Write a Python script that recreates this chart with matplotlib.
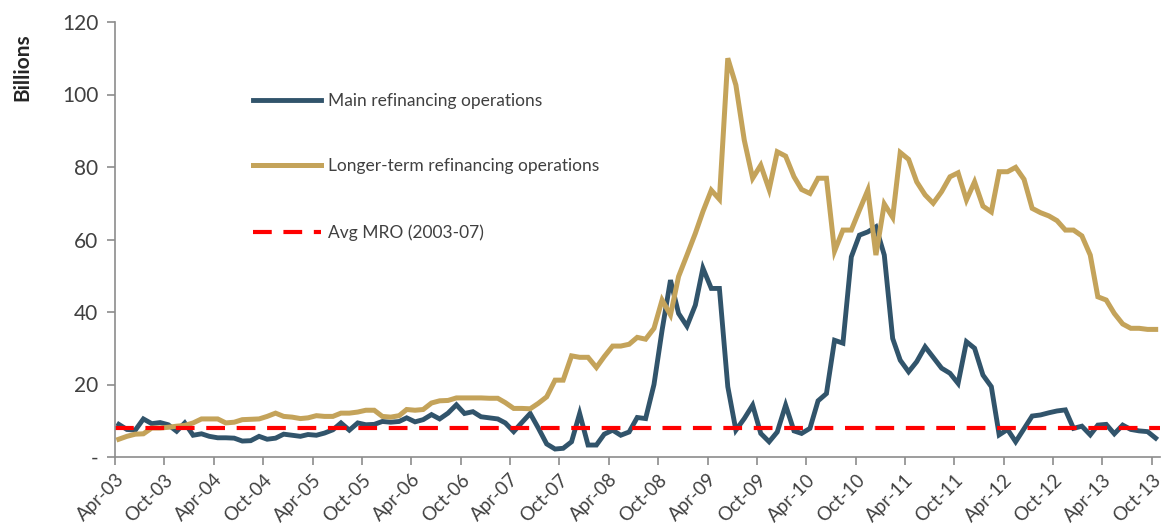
import matplotlib.pyplot as plt
import pandas as pd

plt.rcParams['font.family'] = ['Lato', 'DejaVu Sans']

# monthly averages, Apr-03 .. Oct-13 (billions)
months = pd.date_range('2003-04-01', '2013-10-01', freq='MS') + pd.Timedelta(days=14)

mro = [9.0, 7.6, 7.4, 10.5, 9.2, 9.5, 8.9, 7.1, 9.4, 6.0,
       6.4, 5.7, 5.3, 5.3, 5.2, 4.4, 4.5, 5.7, 4.9, 5.2,
       6.3, 6.0, 5.7, 6.2, 6.0, 6.6, 7.5, 9.4, 7.4, 9.4,
       8.9, 9.0, 9.8, 9.6, 9.8, 10.8, 9.7, 10.3, 11.7, 10.5,
       12.1, 14.4, 12.0, 12.5, 11.1, 10.8, 10.5, 9.4, 7.0, 9.5,
       12.0, 8.0, 3.6, 2.2, 2.4, 4.2, 12.0, 3.3, 3.3, 6.3,
       7.4, 6.0, 6.9, 10.9, 10.6, 20.0, 35.0, 48.8, 39.6, 36.1,
       41.9, 52.1, 46.5, 46.5, 19.4, 7.4, 10.6, 14.3, 6.5, 4.2,
       6.9, 14.3, 7.2, 6.5, 7.9, 15.5, 17.5, 32.2, 31.4, 55.2,
       61.2, 62.1, 63.5, 55.7, 32.7, 26.7, 23.5, 26.3, 30.4, 27.5,
       24.5, 23.1, 20.3, 31.8, 30.0, 22.6, 19.4, 6.1, 7.6, 4.2,
       7.8, 11.3, 11.6, 12.2, 12.7, 13.0, 7.9, 8.5, 6.1, 8.8,
       9.0, 6.4, 8.8, 7.6, 7.2, 7.0, 5.2]

ltro = [4.9, 5.7, 6.3, 6.4, 8.0, 8.0, 8.2, 8.5, 8.7, 9.4,
        10.5, 10.5, 10.5, 9.4, 9.6, 10.3, 10.4, 10.5, 11.2, 12.1,
        11.2, 11.0, 10.6, 10.8, 11.4, 11.2, 11.2, 12.1, 12.1, 12.4,
        12.9, 12.9, 11.2, 11.0, 11.4, 13.1, 12.9, 13.1, 14.9, 15.5,
        15.6, 16.3, 16.3, 16.3, 16.3, 16.2, 16.2, 15.0, 13.4, 13.4,
        13.3, 14.8, 16.6, 21.2, 21.2, 27.9, 27.5, 27.5, 24.7, 27.7,
        30.6, 30.6, 31.1, 33.0, 32.5, 35.5, 43.3, 39.2, 49.8, 55.7,
        61.7, 67.7, 73.6, 71.1, 110.0, 102.6, 87.4, 76.9, 80.5, 73.8,
        84.2, 83.0, 77.3, 73.8, 72.7, 76.9, 76.9, 56.8, 62.6, 62.6,
        68.1, 73.6, 55.7, 69.8, 66.1, 84.0, 82.1, 75.9, 72.3, 70.0,
        73.2, 77.3, 78.4, 70.9, 75.9, 69.2, 67.6, 78.7, 78.7, 79.9,
        76.6, 68.6, 67.4, 66.5, 65.2, 62.6, 62.6, 61.0, 55.7, 44.2,
        43.3, 39.6, 36.7, 35.5, 35.5, 35.2, 35.2]

avg_mro = 8.0

yticks = [0, 20, 40, 60, 80, 100, 120]
ytick_labels = ['-', '20', '40', '60', '80', '100', '120']
xticks = pd.date_range('2003-04-01', '2013-10-01', freq='6MS')

grey = '#8c8c8c'
txt = '#404040'

fig = plt.figure(figsize=(11.62, 5.26), dpi=100)
ax = fig.add_axes([115 / 1162, 69 / 526, 1045 / 1162, 435 / 526])

ax.plot(months, mro, color='#31546b', lw=3.5, solid_joinstyle='miter',
        label='Main refinancing operations')
ax.plot(months, ltro, color='#c4a35a', lw=3.6, solid_joinstyle='miter',
        label='Longer-term refinancing operations')
ax.axhline(avg_mro, color='#ff0000', lw=3.0, dashes=(4.5, 2.8),
           label='Avg MRO (2003-07)')

ax.set_xlim(pd.Timestamp('2003-04-01'), pd.Timestamp('2013-10-31'))
ax.set_ylim(0, 120)

ax.set_yticks(yticks)
ax.set_yticklabels(ytick_labels)
ax.set_xticks(xticks)
ax.set_xticklabels([d.strftime('%b-%y') for d in xticks], rotation=45,
                   ha='right', rotation_mode='anchor')

for s in ['top', 'right']:
    ax.spines[s].set_visible(False)
for s in ['left', 'bottom']:
    ax.spines[s].set_color(grey)
    ax.spines[s].set_linewidth(1.2)

ax.tick_params(axis='y', colors=grey, labelcolor=txt, labelsize=15,
               length=6, width=1.2, pad=6)
ax.tick_params(axis='x', colors=grey, labelcolor=txt, labelsize=13.5,
               length=6, width=1.2, pad=4)

fig.text(22 / 1162, 1 - 67 / 526, 'Billions', rotation=90, ha='center',
         va='center', fontsize=15, fontweight='bold', color='#262626')

ax.legend(loc='upper left', bbox_to_anchor=(237 / 1162, 1 - 77 / 526),
          bbox_transform=fig.transFigure, frameon=False, fontsize=12.5,
          handlelength=3.95, handletextpad=0.4, labelspacing=2.87,
          labelcolor=txt)

fig.savefig('out.png', dpi=100)
